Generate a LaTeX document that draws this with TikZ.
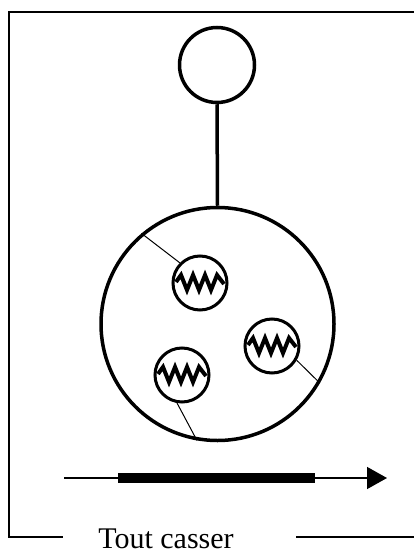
\documentclass[tikz,border=0pt]{standalone}
\usepackage{fontspec}
\setmainfont{Liberation Serif}
\usetikzlibrary{arrows.meta,calc}
\tikzset{
  frameline/.style={line width=2pt},
  bigring/.style={circle, draw, line width=3.5pt, inner sep=0pt},
  smallring/.style={circle, draw, line width=3pt, inner sep=0pt, minimum size=54pt},
  tether/.style={line width=1pt},
  zig/.style={line width=4pt, line join=miter, miter limit=3},
}
\newcommand{\zigzag}[1]{%
  \draw[zig] ($(#1)+(-24,-1)$) -- ++(5,-7) -- ++(6,15) -- ++(6,-15) -- ++(6,15) -- ++(6,-15) -- ++(6,15) -- ++(6,-15) -- ++(7,9);}
\begin{document}
\begin{tikzpicture}[x=1pt,y=-1pt]
\useasboundingbox (0,0) rectangle (414,556);
% frame
\coordinate (tl) at (9,12);
\coordinate (tr) at (414,12);
\coordinate (bl) at (9,537);
\coordinate (bl2) at (63,537);
\coordinate (br1) at (296,537);
\coordinate (br2) at (414,537);
\draw[frameline] (tr) -- (tl) -- (bl) -- (bl2);
\draw[frameline] (br1) -- (br2);
\node[font=\fontsize{30}{30}\selectfont, anchor=base, inner sep=0pt] (label) at (166,548) {Tout casser};
% top circle and stem
\node[bigring, minimum size=75pt] (top) at (217,65) {};
\node[bigring, minimum size=233pt] (big) at (217.5,324) {};
\draw[line width=3.5pt] (top.south) -- (big.north);
% small circles
\node[smallring] (s1) at (200,283) {};
\node[smallring] (s2) at (272,346) {};
\node[smallring] (s3) at (182,375) {};
\zigzag{s1}
\zigzag{s2}
\zigzag{s3}
\draw[tether] (s1.135) -- (big.130);
\draw[tether] (s2.-30) -- (big.-30);
\draw[tether] (s3.-100) -- (big.-100);
% arrow
\coordinate (a0) at (64,478);
\coordinate (a1) at (387,478);
\coordinate (b0) at (118,478);
\coordinate (b1) at (315,478);
\draw[line width=1.5pt, -{Triangle[length=20pt,width=22pt]}] (a0) -- (a1);
\draw[line width=10pt] (b0) -- (b1);
\end{tikzpicture}
\end{document}
